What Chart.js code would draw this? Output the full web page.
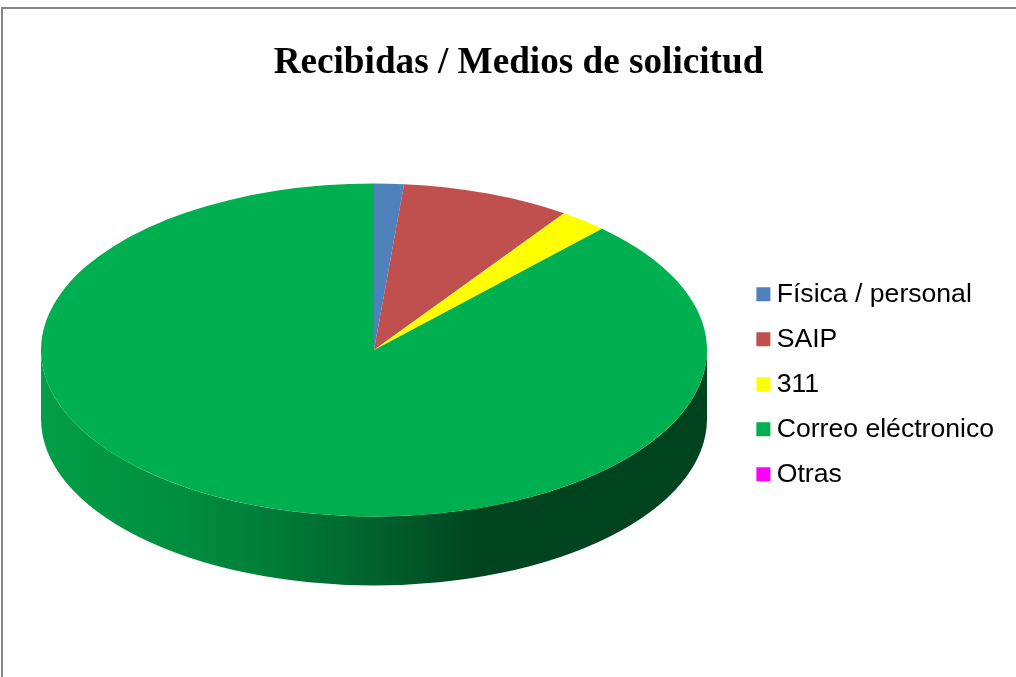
<!DOCTYPE html>
<html>
<head>
<meta charset="utf-8">
<title>Recibidas / Medios de solicitud</title>
<script src="https://cdn.jsdelivr.net/npm/chart.js@4"></script>
<style>
  html, body { margin: 0; padding: 0; background: #fff; overflow: hidden; }
  canvas { display: block; }
</style>
</head>
<body>
<canvas id="myChart" width="1016" height="677"></canvas>
<script>
// Valores (porcentajes estimados)
const categories = ["Física / personal", "SAIP", "311", "Correo eléctronico", "Otras"];
const values = [1.44, 8.23, 2.33, 88, 0];
const colors = ["#4F81BD", "#C0504D", "#FFFF00", "#00B050", "#FF00FF"];

// Elipse de la tarta en pantalla
const pie3d = { cx: 374, cy: 350, rx: 333, ry: 166.5, depth: 69 };

// Cara lateral: solo la mitad delantera de cada porcion
function drawWall(ctx, arc) {
  const from = Math.max(arc.startAngle, 0);
  const to = Math.min(arc.endAngle, Math.PI);
  if (to <= from) return;
  const { cx, cy, rx, ry, depth } = pie3d;
  const grad = ctx.createLinearGradient(cx - rx, 0, cx + rx, 0);
  grad.addColorStop(0, "#029E47");
  grad.addColorStop(0.2, "#008F40");
  grad.addColorStop(0.33, "#007F38");
  grad.addColorStop(0.5, "#00622D");
  grad.addColorStop(0.66, "#00431F");
  grad.addColorStop(1, "#00431F");
  ctx.beginPath();
  ctx.ellipse(cx, cy, rx, ry, 0, from, to);
  ctx.ellipse(cx, cy + depth, rx, ry, 0, to, from, true);
  ctx.closePath();
  ctx.fillStyle = grad;
  ctx.fill();
}

const pie3dPlugin = {
  id: "pie3d",
  beforeDraw(chart) {
    const ctx = chart.ctx;
    // marco gris, solo arriba e izquierda
    ctx.save();
    ctx.fillStyle = "#868686";
    ctx.fillRect(1, 7, 2, 670);
    ctx.fillRect(1, 7, 1015, 2);
    ctx.restore();
  },
  beforeDatasetsDraw(chart) {
    const ctx = chart.ctx;
    const arcs = chart.getDatasetMeta(0).data;
    const r = arcs[0].outerRadius;
    ctx.save();
    arcs.forEach(arc => drawWall(ctx, arc));
    ctx.translate(pie3d.cx, pie3d.cy);
    ctx.scale(pie3d.rx / r, pie3d.ry / r);
    ctx.translate(-arcs[0].x, -arcs[0].y);
  },
  afterDatasetsDraw(chart) {
    chart.ctx.restore();
  },
};

const config = {
  type: "pie",
  data: {
    labels: categories,
    datasets: [{
      data: values,
      backgroundColor: colors,
      borderWidth: 0,
    }],
  },
  plugins: [pie3dPlugin],
  options: {
    responsive: false,
    animation: false,
    layout: { padding: { left: 33, right: 12, top: 0, bottom: 32 } },
    plugins: {
      tooltip: { enabled: false },
      title: {
        display: true,
        text: "Recibidas / Medios de solicitud",
        color: "#000",
        font: { family: "'Liberation Serif'", size: 37.2, weight: "bold" },
        padding: { top: 41, bottom: 38 },
      },
      legend: {
        position: "right",
        fullSize: false,
        labels: {
          color: "#000",
          font: { family: "'Liberation Sans'", size: 26.6 },
          usePointStyle: true,
          pointStyle: "rect",
          boxWidth: 0.1,
          boxHeight: 14,
          padding: 18.4,
        },
      },
    },
  },
};

const context = document.getElementById("myChart").getContext("2d");
const chart = new Chart(context, config);
</script>
</body>
</html>
